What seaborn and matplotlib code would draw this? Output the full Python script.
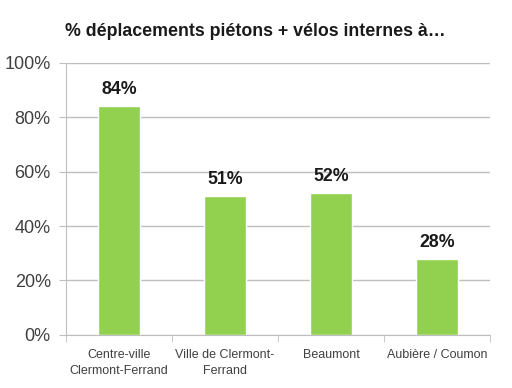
import matplotlib

matplotlib.use("Agg")

import matplotlib.pyplot as plt
import pandas as pd
import seaborn as sns
from matplotlib.ticker import FixedLocator, PercentFormatter

CATEGORIES = [
    "Centre-ville\nClermont-Ferrand",
    "Ville de Clermont-\nFerrand",
    "Beaumont",
    "Aubière / Coumon",
]
VALUES = [84, 51, 52, 28]
Y_TICKS = [0, 20, 40, 60, 80, 100]
TITLE = "% déplacements piétons + vélos internes à…"

BAR_COLOR = "#92D050"
GRID_COLOR = "#BFBFBF"
TEXT_COLOR = "#404040"


def main() -> None:
    sns.set_style("white")
    plt.rcParams["font.family"] = ["Liberation Sans", "DejaVu Sans"]

    df = pd.DataFrame({"Zone": CATEGORIES, "Part": VALUES})

    fig = plt.figure(figsize=(5.12, 3.88), dpi=100)
    ax = fig.add_axes([0.129, 0.137, 0.828, 0.701])

    sns.barplot(data=df, x="Zone", y="Part", color=BAR_COLOR, width=0.4,
                saturation=1, ax=ax)

    for i, v in enumerate(VALUES):
        ax.text(i, v + 3, f"{v}%", ha="center", va="bottom",
                fontsize=12.8, fontweight="bold", color="#1a1a1a")

    ax.set_ylim(0, 100)
    ax.set_xlim(-0.5, len(CATEGORIES) - 0.5)
    ax.set_yticks(Y_TICKS)
    ax.yaxis.set_major_formatter(PercentFormatter(decimals=0))
    ax.yaxis.grid(True, color=GRID_COLOR, linewidth=1)
    ax.set_axisbelow(True)

    ax.xaxis.set_minor_locator(FixedLocator([i - 0.5 for i in range(len(CATEGORIES) + 1)]))
    ax.tick_params(axis="x", which="major", length=0, labelsize=9,
                   labelcolor=TEXT_COLOR, pad=10)
    ax.tick_params(axis="x", which="minor", length=5, color=GRID_COLOR,
                   direction="out", bottom=True)
    ax.tick_params(axis="y", length=5, color=GRID_COLOR, labelsize=13,
                   labelcolor=TEXT_COLOR, left=True, direction="out", pad=6)
    for label in ax.get_xticklabels():
        label.set_linespacing(1.45)

    for side in ["top", "right"]:
        ax.spines[side].set_visible(False)
    for side in ["left", "bottom"]:
        ax.spines[side].set_color(GRID_COLOR)

    ax.set_xlabel("")
    ax.set_ylabel("")

    fig.text(0.127, 0.92, TITLE, fontsize=12.8, fontweight="bold",
             color="#1a1a1a", ha="left", va="center")

    fig.savefig("out.png", dpi=100)
    plt.close(fig)


if __name__ == "__main__":
    main()
